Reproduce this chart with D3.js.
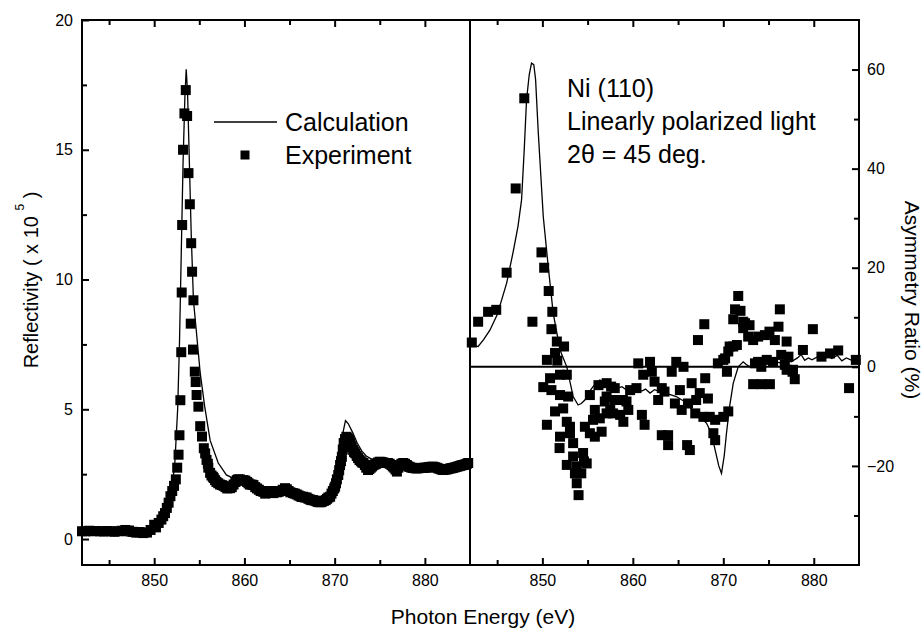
<!DOCTYPE html>
<html>
<head>
<meta charset="utf-8">
<script src="https://cdn.jsdelivr.net/npm/d3@7"></script>
<style>
  body { margin: 0; background: #fff; }
  text { font-family: "Liberation Sans", Arial, Helvetica, sans-serif; fill: #000; }
</style>
</head>
<body>
<div id="chart"></div>
<script>
// ---- data ----
// left panel: reflectivity (x 10^5)
var leftCalcE = [842, 843, 844, 845, 846, 847, 848, 849, 849.5, 850, 850.5, 851, 851.5, 852, 852.3, 852.6, 852.8, 853,
    853.2, 853.4, 853.55, 853.7, 853.9, 854.1, 854.35, 854.7, 855.1, 855.6, 856.2, 857.1, 858, 859, 860, 861, 862, 863,
    864, 865, 866, 867, 868, 868.8, 869.5, 870, 870.4, 870.8, 871.2, 871.5, 872, 872.5, 873, 873.5, 874, 875, 876, 877,
    877.6, 878.3, 879, 880, 881, 882, 883, 884, 885];
var leftCalcR = [0.22, 0.2, 0.2, 0.18, 0.15, 0.12, 0.08, 0.08, 0.12, 0.25, 0.45, 0.75, 1.2, 2.0, 3.0, 5.0, 7.5, 11.0,
    14.5, 17.0, 18.1, 17.2, 14.5, 11.8, 9.2, 7.9, 6.4, 5.1, 3.8, 2.93, 2.47, 2.3, 2.2, 2.1, 2.0, 1.92,
    1.85, 1.78, 1.7, 1.62, 1.58, 1.6, 1.8, 2.2, 3.0, 3.9, 4.56, 4.45, 4.1, 3.7, 3.4, 3.2, 3.1, 3.0, 2.95, 2.95,
    2.97, 2.88, 2.82, 2.8, 2.78, 2.76, 2.78, 2.85, 2.9];

var leftExpE = [842.0, 842.4, 842.8, 843.2, 843.6, 844.0, 844.4, 844.8, 845.2, 845.6, 846.0, 846.4, 846.8, 847.2, 847.6,
    848.0, 848.4, 848.8, 849.2, 849.6, 850.0, 850.2, 850.5, 850.8, 851.0, 851.2, 851.4, 851.6, 851.8, 852.0, 852.2, 852.4,
    852.55, 852.7, 852.8, 852.9, 853.0, 853.05, 853.1, 853.2, 853.35, 853.5, 853.65, 853.8, 853.95, 854.1, 854.2, 854.35,
    854.05, 854.3, 854.5, 854.6, 854.7, 854.9, 855.1, 855.3, 855.5, 855.8, 856.0, 856.2, 856.5, 856.75, 857.1, 857.5,
    857.9, 858.4, 858.8, 859.15, 859.5, 859.9, 860.3, 860.6, 861.0, 861.4, 861.8, 862.1, 862.5, 862.9, 863.2, 863.6,
    864.0, 864.5, 864.9, 865.4, 865.8, 866.2, 866.5, 866.9, 867.3, 867.6, 868.0, 868.3, 868.6, 869.0, 869.3, 869.5,
    869.8, 870.05, 870.25, 870.4, 870.6, 870.8, 871.0, 871.15, 871.3, 871.5, 871.7, 871.9, 872.05, 872.3, 872.6, 872.9,
    873.2, 873.5, 873.7, 874.0, 874.3, 874.6, 875.0, 875.4, 875.9, 876.3, 876.6, 876.9, 877.2, 877.6, 878.0, 878.3,
    878.7, 879.1, 879.5, 879.8, 880.2, 880.6, 880.9, 881.3, 881.7, 882.0, 882.4, 882.8, 883.1, 883.5, 883.9, 884.2,
    884.5, 884.8,
    855.65, 855.95, 856.35, 856.6, 856.9, 857.3, 857.7, 858.1, 858.6, 859.0, 859.3, 859.7, 860.1, 860.45, 860.8,
    861.2, 861.6, 861.95, 862.3, 862.7, 863.05, 863.4, 863.8, 864.25, 864.7, 865.1, 865.6, 866.0, 866.35, 866.7,
    867.1, 867.45, 867.8, 868.15, 868.45, 868.8, 869.15, 869.65, 869.95, 870.15, 870.5, 870.7, 870.9, 871.4, 871.6,
    871.8, 872.15, 872.45, 872.75, 873.05, 873.35, 873.85, 874.15, 874.45, 874.8, 875.2, 875.65, 876.1, 876.45,
    876.75, 877.05, 877.4, 877.8, 878.15, 878.5, 878.9, 879.3, 879.65, 880.0, 880.4, 880.75, 881.1, 881.5, 881.85,
    882.2, 882.6, 882.95, 883.3, 883.7, 884.05, 884.35, 884.65];
var leftExpR = [0.30, 0.30, 0.32, 0.30, 0.31, 0.30, 0.29, 0.31, 0.30, 0.28, 0.30, 0.32, 0.35, 0.33, 0.28,
    0.25, 0.27, 0.23, 0.25, 0.35, 0.55, 0.45, 0.62, 0.75, 0.88, 1.0, 1.2, 1.4, 1.65, 1.85, 2.05, 2.3,
    2.75, 3.25, 4.0, 5.35, 7.2, 9.5, 12.1, 15.0, 16.4, 17.3, 16.3, 14.1, 12.9, 11.4, 10.3, 9.2,
    8.3, 7.3, 6.45, 6.05, 5.55, 5.1, 4.35, 3.95, 3.5, 3.05, 2.75, 2.55, 2.4, 2.27, 2.15, 2.08,
    2.0, 1.96, 2.1, 2.27, 2.3, 2.27, 2.2, 2.1, 2.08, 1.95, 1.85, 1.82, 1.8, 1.85, 1.77, 1.8,
    1.85, 1.96, 1.85, 1.77, 1.72, 1.65, 1.63, 1.6, 1.52, 1.5, 1.45, 1.42, 1.44, 1.5, 1.6, 1.63,
    1.85, 2.02, 2.3, 2.47, 2.85, 3.17, 3.7, 3.85, 3.94, 3.85, 3.7, 3.55, 3.43, 3.3, 3.12, 3.0,
    2.93, 2.75, 2.66, 2.75, 2.85, 2.9, 2.98, 2.95, 2.93, 2.85, 2.75, 2.6, 2.85, 2.93, 2.85, 2.78,
    2.74, 2.72, 2.74, 2.74, 2.75, 2.78, 2.79, 2.75, 2.7, 2.66, 2.68, 2.72, 2.74, 2.78, 2.82, 2.85,
    2.88, 2.93,
    3.3, 2.9, 2.45, 2.35, 2.2, 2.1, 2.05, 1.95, 2.0, 2.2, 2.3, 2.25, 2.25, 2.15, 2.1,
    2.0, 1.9, 1.85, 1.75, 1.8, 1.8, 1.85, 1.82, 1.9, 1.92, 1.8, 1.75, 1.68, 1.62, 1.6,
    1.55, 1.5, 1.48, 1.43, 1.42, 1.47, 1.55, 1.75, 1.95, 2.15, 2.65, 3.0, 3.45, 3.9, 3.8,
    3.6, 3.35, 3.2, 3.05, 2.95, 2.85, 2.7, 2.8, 2.88, 2.95, 2.97, 2.93, 2.9, 2.8,
    2.68, 2.75, 2.9, 2.9, 2.8, 2.75, 2.73, 2.73, 2.74, 2.75, 2.77, 2.78, 2.77, 2.72, 2.68,
    2.67, 2.7, 2.73, 2.76, 2.8, 2.84, 2.86, 2.9];

// right panel: asymmetry ratio (%)
var rightCalcE = [842, 842.5, 842.9, 843.5, 844.2, 845, 845.5, 846.05, 846.75, 847.3, 847.7, 848, 848.25, 848.55, 848.8,
    849.05, 849.25, 849.55, 850.1, 850.65, 851.2, 851.95, 852.7, 853.4, 853.95, 854.3, 854.7, 855.2, 855.6, 856,
    856.35, 856.9, 857.5, 858.2, 858.8, 859.3, 859.9, 860.4, 861, 861.4, 861.9, 862.4, 863, 863.8, 864.8, 865.7,
    866.6, 867.4, 868.15, 868.7, 869.1, 869.5, 869.8, 870.1, 870.35, 870.7, 871.1, 871.65, 872.2, 872.5, 872.95,
    873.5, 874, 874.5, 875, 875.6, 876.2, 876.8, 877.5, 878.2, 878.6, 879, 879.4, 879.8, 880.4, 881, 881.5, 882,
    882.6, 883.1, 883.6, 884.2, 884.6, 885];
var rightCalcA = [5.0, 4.3, 4.1, 5.5, 7.4, 10.5, 13.5, 16.9, 23, 28.3, 33.7, 44, 53.9, 59, 61.3,
    61, 58, 47.2, 30.3, 20.2, 10.8, 3.4, 0, -6, -7.7, -7.4, -6.7, -5, -4, -3.2,
    -2.65, -3.2, -3.7, -4.4, -4.0, -4.7, -4.2, -4.3, -4.9, -4.5, -5.3, -4.6, -5.0, -5.4, -6, -7,
    -8.7, -10, -11.4, -13.5, -16.8, -20, -21.5, -18, -13.4, -8, -3.3, 0, 1.0, 0.5, 0,
    0.3, 0.8, 0.6, 0.9, 1.2, 0.8, 1.3, 1.0, 1.8, 2.5, 1.3, 1.8, 1.4, 2.0, 1.8, 2.2, 1.7,
    2.3, 1.2, 1.8, 1.3, 1.6, 1.2];

var rightExpE = [842.2, 842.9, 844.0, 844.9, 846.05, 847.05, 848.0, 848.9, 849.9, 850.2, 850.7, 851.1, 851.0, 851.6,
    852.4, 851.4, 850.5, 851.65, 851.95, 850.85, 852.7, 850.1, 851.0, 851.95, 852.85, 852.3, 851.4, 850.5, 852.7,
    853.05, 851.95, 853.05, 853.4, 851.9, 852.7, 853.4, 853.8, 854.5, 854.9, 853.6, 854.3, 853.8, 854.0, 854.6,
    855.25, 854.7, 855.8, 856.55, 855.8, 855.6, 856.35, 855.25, 856.2, 857.1, 856.9, 857.1, 857.1, 857.6, 857.5,
    858.0, 858.0, 857.8, 858.6, 858.95, 858.9, 859.7, 859.3, 859.5, 860.4, 861.0, 861.3, 860.6, 861.9, 861.15,
    862.1, 862.4, 863.2, 862.8, 863.5, 863.2, 863.9, 863.9, 864.3, 864.8, 865.6, 865.2, 864.65, 865.4, 866.0,
    866.3, 866.5, 866.1, 867.0, 866.9, 867.4, 868.0, 868.3, 867.8, 868.5, 869.1, 868.9, 869.1, 870.0, 870.55,
    867.2, 867.9, 869.4, 870.2, 870.4, 870.7, 871.65, 871.3, 871.9, 871.1, 872.2, 872.9, 872.2, 872.4, 872.75,
    873.3, 873.85, 874.6, 875.1, 876.1, 875.7, 876.25, 877.0, 879.9, 878.8, 871.1, 870.55, 870.0, 871.5, 873.5,
    873.85, 874.8, 875.5, 874.2, 876.4, 877.2, 876.8, 877.0, 877.7, 877.65, 877.9, 873.3, 874.2, 875.15, 880.85,
    881.8, 882.7, 883.9, 884.65];
var rightExpA = [4.9, 9.1, 11.1, 11.5, 19.0, 36.0, 54.2, 9.1, 23.1, 20.0, 15.3, 11.1, 7.6, 5.1,
    4.1, 2.8, 1.4, 1.25, -1.6, -2.3, -1.6, -4.1, -4.7, -5.7, -6.0, -8.4, -9.0, -11.7, -11.1,
    -12.1, -14.1, -13.4, -15.4, -16.4, -19.8, -18.1, -20.1, -17.4, -19.5, -21.5, -21.5, -23.5, -25.9, -19.1,
    -13.4, -12.1, -14.1, -13.1, -8.7, -10.7, -10.4, -5.7, -3.7, -3.3, -7.0, -9.4, -6.0, -4.0, -8.7,
    -4.3, -6.7, -9.4, -9.7, -11.1, -6.7, -4.7, -7.0, -8.7, -4.3, -9.7, -11.7, 0.7, 1.0, -1.6,
    -1.0, -3.0, -4.3, -6.7, -5.0, -13.8, -13.8, -15.8, -1.0, 1.0, 0.0, -4.7, -7.4, -8.7, -15.8,
    -16.8, -3.3, -7.4, -6.7, -9.4, -5.3, -2.3, -6.4, -10.1, -10.1, -10.7, -13.4, -14.8, -10.1, -9.0,
    5.4, 8.6, 0.7, 1.7, -1.0, 4.1, 14.3, 11.6, 11.3, 9.6, 9.1, 8.4, 7.8, 8.8, 6.1,
    5.4, 6.1, 6.4, 7.1, 8.1, 5.4, 11.6, 5.1, 7.6, 3.4, 4.1, 3.1, 1.4, 4.4, 0.7,
    1.0, 1.4, 1.0, 0.0, 2.4, 2.05, 0.4, -0.6, -0.6, -1.0, -2.5, -3.5, -3.5, -3.5, 2.05,
    2.7, 3.3, -4.3, 1.4];

// ticks
var xMajor = [850, 860, 870, 880];
var xMinor = [845, 855, 865, 875];
var yLeftMajor = [0, 5, 10, 15, 20];
var yLeftMinor = [2.5, 7.5, 12.5, 17.5];
var yRightMajor = [-20, 0, 20, 40, 60];
var yRightMinor = [-30, -10, 10, 30, 50];

// ---- layout ----
var W = 924, H = 629;
var frame = { left: 82, mid: 470, right: 859, top: 20, bottom: 565 };

var svg = d3.select("#chart").append("svg")
    .attr("width", W)
    .attr("height", H);

svg.append("rect").attr("width", W).attr("height", H).attr("fill", "#fff");

var xL = d3.scaleLinear().domain([842, 885]).range([frame.left, frame.mid]);
var yL = d3.scaleLinear().domain([-1, 20]).range([frame.bottom, frame.top]);
var xR = d3.scaleLinear().domain([842, 885]).range([frame.mid, frame.right]);
var yR = d3.scaleLinear().domain([-40, 70]).range([frame.bottom, frame.top]);

function tickAxis(axis, vals, size, labels) {
    var a = axis.tickValues(vals).tickSize(size).tickPadding(10);
    if (!labels) a.tickFormat("");
    return a;
}

function styleAxis(g) {
    g.select(".domain").remove();
    g.selectAll("line").attr("stroke", "#000").attr("stroke-width", 2);
    g.selectAll("text")
        .attr("font-size", "16px")
        .attr("font-family", "'Liberation Sans', Arial, sans-serif")
        .attr("fill", "#000");
}

// bottom + top axes for both panels
[xL, xR].forEach(function(x){
    svg.append("g").attr("transform", "translate(0," + frame.bottom + ")")
        .call(tickAxis(d3.axisBottom(x), xMajor, -7, true)).call(styleAxis);
    svg.append("g").attr("transform", "translate(0," + frame.bottom + ")")
        .call(tickAxis(d3.axisBottom(x), xMinor, -5, false)).call(styleAxis);
    svg.append("g").attr("transform", "translate(0," + frame.top + ")")
        .call(tickAxis(d3.axisTop(x), xMajor, -7, false)).call(styleAxis);
    svg.append("g").attr("transform", "translate(0," + frame.top + ")")
        .call(tickAxis(d3.axisTop(x), xMinor, -5, false)).call(styleAxis);
});

// left y axis
svg.append("g").attr("transform", "translate(" + frame.left + ",0)")
    .call(tickAxis(d3.axisLeft(yL), yLeftMajor, -7, true).tickPadding(9)).call(styleAxis);
svg.append("g").attr("transform", "translate(" + frame.left + ",0)")
    .call(tickAxis(d3.axisLeft(yL), yLeftMinor, -5, false)).call(styleAxis);

// right y axis
svg.append("g").attr("transform", "translate(" + frame.right + ",0)")
    .call(tickAxis(d3.axisRight(yR), yRightMajor, -7, true).tickPadding(8)).call(styleAxis);
svg.append("g").attr("transform", "translate(" + frame.right + ",0)")
    .call(tickAxis(d3.axisRight(yR), yRightMinor, -5, false)).call(styleAxis);

// frame
svg.append("rect")
    .attr("x", frame.left).attr("y", frame.top)
    .attr("width", frame.right - frame.left).attr("height", frame.bottom - frame.top)
    .attr("fill", "none").attr("stroke", "#000").attr("stroke-width", 2);
svg.append("line")
    .attr("x1", frame.mid).attr("x2", frame.mid).attr("y1", frame.top).attr("y2", frame.bottom)
    .attr("stroke", "#000").attr("stroke-width", 2);

// zero line right panel
svg.append("line")
    .attr("x1", frame.mid).attr("x2", frame.right).attr("y1", yR(0)).attr("y2", yR(0))
    .attr("stroke", "#000").attr("stroke-width", 2);

var sq = 10;

// left panel data
var lineL = d3.line()
    .x(function(d){ return xL(d[0]); })
    .y(function(d){ return yL(d[1]); });
svg.append("path")
    .datum(d3.zip(leftCalcE, leftCalcR))
    .attr("d", lineL)
    .attr("fill", "none").attr("stroke", "#000").attr("stroke-width", 1.3);

svg.append("g").selectAll("rect")
    .data(d3.zip(leftExpE, leftExpR))
    .enter().append("rect")
        .attr("x", function(d){ return xL(d[0]) - sq / 2; })
        .attr("y", function(d){ return yL(d[1]) - sq / 2; })
        .attr("width", sq).attr("height", sq)
        .attr("fill", "#000");

// right panel data
var lineR = d3.line()
    .x(function(d){ return xR(d[0]); })
    .y(function(d){ return yR(d[1]); });
svg.append("path")
    .datum(d3.zip(rightCalcE, rightCalcA))
    .attr("d", lineR)
    .attr("fill", "none").attr("stroke", "#000").attr("stroke-width", 1.3);

svg.append("g").selectAll("rect")
    .data(d3.zip(rightExpE, rightExpA))
    .enter().append("rect")
        .attr("x", function(d){ return xR(d[0]) - sq / 2; })
        .attr("y", function(d){ return yR(d[1]) - sq / 2; })
        .attr("width", sq).attr("height", sq)
        .attr("fill", "#000");

// legend
svg.append("line")
    .attr("x1", 214).attr("x2", 277).attr("y1", 122).attr("y2", 122)
    .attr("stroke", "#000").attr("stroke-width", 1.3);
svg.append("text").attr("x", 285).attr("y", 131).attr("font-size", "25px").text("Calculation");
svg.append("rect").attr("x", 245 - 4.5).attr("y", 155 - 4.5)
    .attr("width", 9).attr("height", 9).attr("fill", "#000");
svg.append("text").attr("x", 285).attr("y", 164).attr("font-size", "25px").text("Experiment");

// annotation
svg.append("text").attr("x", 567).attr("y", 97).attr("font-size", "25px").text("Ni (110)");
svg.append("text").attr("x", 567).attr("y", 130).attr("font-size", "25px").text("Linearly polarized light");
svg.append("text").attr("x", 567).attr("y", 163).attr("font-size", "25px").text("2θ = 45 deg.");

// axis titles
svg.append("text")
    .attr("x", 483).attr("y", 624)
    .attr("text-anchor", "middle")
    .attr("font-size", "21px")
    .text("Photon Energy (eV)");

var yt = svg.append("text")
    .attr("transform", "translate(38,280) rotate(-90)")
    .attr("text-anchor", "middle")
    .attr("font-size", "20px");
yt.append("tspan").text("Reflectivity ( x 10 ");
yt.append("tspan").attr("font-size", "12px").attr("dy", -14).text("5");
yt.append("tspan").attr("dy", 14).text("  )");

svg.append("text")
    .attr("transform", "translate(905,300) rotate(90)")
    .attr("text-anchor", "middle")
    .attr("font-size", "21px")
    .text("Asymmetry Ratio (%)");
</script>
</body>
</html>
